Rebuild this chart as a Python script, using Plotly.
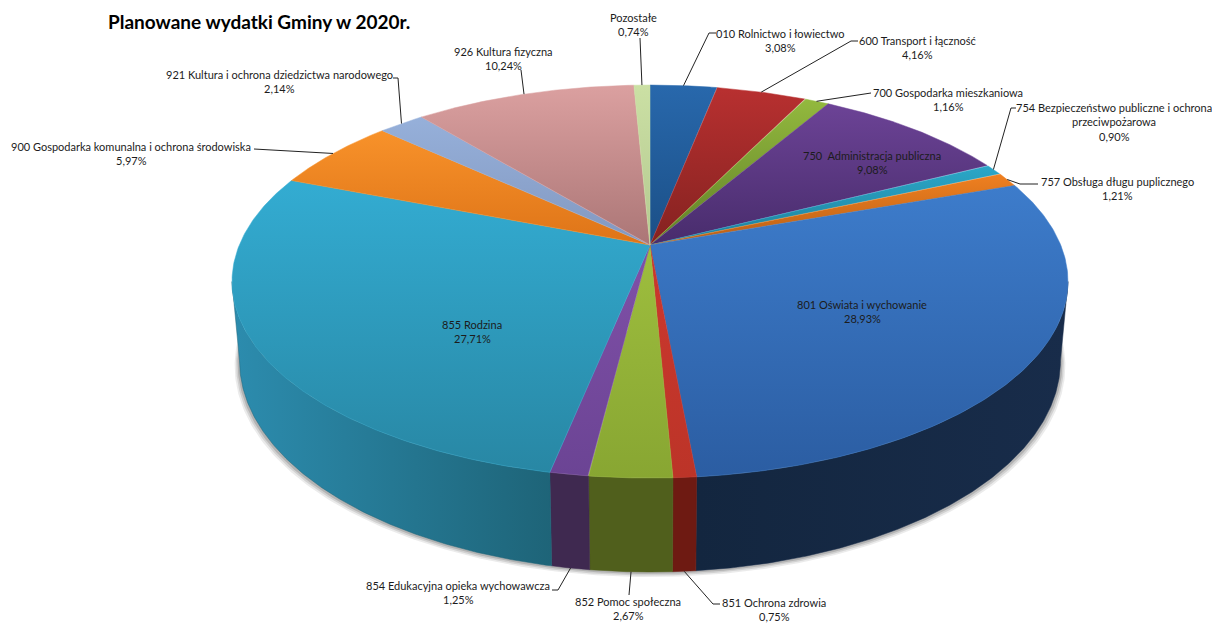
import numpy as np
import plotly.graph_objects as go

# ---------- data ----------
categories = [
    "010 Rolnictwo i łowiectwo", "600 Transport i łączność", "700 Gospodarka mieszkaniowa",
    "750  Administracja publiczna", "754 Bezpieczeństwo publiczne i ochrona<br>przeciwpożarowa",
    "757 Obsługa długu puplicznego", "801 Oświata i wychowanie", "851 Ochrona zdrowia",
    "852 Pomoc społeczna", "854 Edukacyjna opieka wychowawcza", "855 Rodzina",
    "900 Gospodarka komunalna i ochrona środowiska", "921 Kultura i ochrona dziedzictwa narodowego",
    "926 Kultura fizyczna", "Pozostałe",
]
values = [3.08, 4.16, 1.16, 9.08, 0.90, 1.21, 28.93, 0.75, 2.67, 1.25, 27.71, 5.97, 2.14, 10.24, 0.74]
title = "Planowane wydatki Gminy w 2020r."

# ---------- styling ----------
top_colors = [
    ("#2868AC", "#1B4F86"), ("#B83030", "#842220"), ("#93B93E", "#607F28"), ("#6C4396", "#482C6C"),
    ("#2BA7C8", "#1E7F9A"), ("#F08020", "#B85F16"), ("#3D7CCB", "#2B5DA2"), ("#CC382E", "#BC3428"),
    ("#9EBE3E", "#88A632"), ("#8050A8", "#6B4494"), ("#33ACD2", "#2887A4"), ("#F8922A", "#DE7418"),
    ("#96B0DA", "#8298C0"), ("#DBA0A0", "#AB7676"), ("#CBE0A4", "#B4C890"),
]
wall_colors = {
    6: ("#13263F", "#182C4A"), 7: ("#6E1A12", "#6E1A12"), 8: ("#505F1C", "#505F1C"),
    9: ("#3F2950", "#3F2950"), 10: ("#2C8CAE", "#1E6478"),
}
# pie geometry in picture pixels (axes map 1:1 to pixels)
CX, CY, A, B, K, DEPTH, SHRINK = 650.0, 245.0, 410.7, 189.7, 0.186, 76.5, 0.982
LINE_STEP = 14.7
# label centre x, first-line centre y
label_pos = [(780, 33), (917, 40), (948, 92), (872, 155), (1114, 107), (1117, 181), (862, 304),
             (774, 602), (628, 601), (458, 585), (472, 324), (131, 146), (279, 74), (503, 51), (633, 17)]
# leader polyline from the label towards the rim (None = label sits on its slice)
leaders = [
    [(716, 33), (709, 33)], [(858, 41), (851, 41)], [(871, 93)], None,
    [(1016, 108), (1011, 108)], [(1038, 184), (1020, 184)], None,
    [(720, 604), (713, 604)], [(629, 595)], [(552, 590), (558, 590)], None,
    [(254, 149)], [(393, 78), (398, 78)], [(521, 70)], [(640, 38)],
]


def theta(pct):
    return np.radians(np.asarray(pct, dtype=float) * 3.6)


def top_xy(t):
    d = 1 + K * np.cos(t)
    return CX + A * np.sin(t) / d, CY - B * np.cos(t) / d


def bottom_xy(t):
    x, y = top_xy(t)
    return CX + (x - CX) * SHRINK, y + DEPTH / (1 + K * np.cos(t))


fig = go.Figure()
edges = np.concatenate([[0], np.cumsum(values)])
edges = edges / edges[-1] * 100
vis_lo, vis_hi = np.arccos(-K), 2 * np.pi - np.arccos(-K)

# soft shadow under the wall
tv = np.linspace(vis_lo - 0.15, vis_hi + 0.15, 300)
for off, op in [(5, 0.10), (3.5, 0.14), (2, 0.2)]:
    bx, by = bottom_xy(tv)
    sx = CX + (bx - CX) * (1 + off / 420)
    fig.add_trace(go.Scatter(x=sx, y=by + off, mode="lines", fill="toself", line=dict(width=0),
                             fillcolor=f"rgba(60,60,60,{op})", hoverinfo="skip"))

# walls
for i, (c1, c2) in wall_colors.items():
    t0, t1 = theta(edges[i]), theta(edges[i + 1])
    t0, t1 = max(t0, vis_lo), min(t1, vis_hi)
    t = np.linspace(t0, t1, 200)
    xt, yt = top_xy(t)
    xb, yb = bottom_xy(t)
    xs = np.concatenate([xt, xb[::-1], xt[:1]])
    ys = np.concatenate([yt, yb[::-1], yt[:1]])
    fig.add_trace(go.Scatter(
        x=xs, y=ys, mode="lines", fill="toself", line=dict(width=0.5, color=c2), hoverinfo="skip",
        fillgradient=dict(type="horizontal", start=float(xs.min()), stop=float(xs.max()),
                          colorscale=[[0, c1], [1, c2]])))

# top faces
for i, (c1, c2) in enumerate(top_colors):
    t = np.linspace(theta(edges[i]), theta(edges[i + 1]), 160)
    x, y = top_xy(t)
    xs = np.concatenate([[CX], x, [CX]])
    ys = np.concatenate([[CY], y, [CY]])
    lo, hi = float(ys.min()), float(ys.max())
    fig.add_trace(go.Scatter(
        x=xs, y=ys, mode="lines", fill="toself", line=dict(width=0.5, color=c1), hoverinfo="skip",
        fillgradient=dict(type="vertical", start=lo, stop=hi, colorscale=[[0, c1], [1, c2]])))

# leader lines: end on the rim at each slice's middle
for i, pts in enumerate(leaders):
    if pts is None:
        continue
    mid = theta((edges[i] + edges[i + 1]) / 2)
    ex, ey = bottom_xy(mid) if vis_lo < mid < vis_hi else top_xy(mid)
    xs = [p[0] for p in pts] + [float(ex)]
    ys = [p[1] for p in pts] + [float(ey)]
    fig.add_trace(go.Scatter(x=xs, y=ys, mode="lines", line=dict(width=1, color="#222222"), hoverinfo="skip"))

# labels: each text line is placed on its own so the line step matches
for cat, val, (lx, ly) in zip(categories, values, label_pos):
    pct = f"{val:.2f}".replace(".", ",") + "%"
    for n, line in enumerate(cat.split("<br>") + [pct]):
        fig.add_annotation(x=lx, y=ly + n * LINE_STEP, text=line, showarrow=False, yanchor="middle",
                           xanchor="center", align="center",
                           font=dict(family="Lato", size=11, color="#1c1c1c"))

fig.add_annotation(x=106, y=21, text=f"<b>{title}</b>", showarrow=False, xanchor="left", yanchor="middle",
                   font=dict(family="Lato", size=19, color="#000000"))

fig.update_layout(
    width=1212, height=623, margin=dict(l=0, r=0, t=0, b=0), showlegend=False,
    paper_bgcolor="white", plot_bgcolor="white",
    xaxis=dict(range=[0, 1212], visible=False, fixedrange=True),
    yaxis=dict(range=[623, 0], visible=False, fixedrange=True),
)
fig.write_html("out.html", config=dict(displayModeBar=False),
               post_script="document.body.style.margin='0';document.body.style.overflow='hidden';")
